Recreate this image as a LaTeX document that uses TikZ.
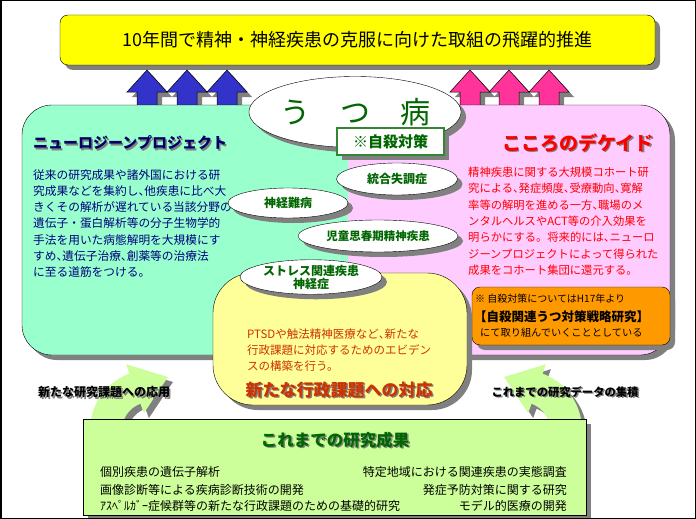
\documentclass[tikz,border=0pt]{standalone}
\usepackage{fontspec}
\setmainfont{Noto Sans CJK JP}
\usetikzlibrary{shapes.geometric,shadows,calc,positioning}

\definecolor{titleyellow}{HTML}{FFFF00}
\definecolor{neurogreen}{HTML}{99FFCC}
\definecolor{kokoropink}{HTML}{FFCCFF}
\definecolor{taiouyellow}{HTML}{FFFF99}
\definecolor{seikagreen}{HTML}{CCFF99}
\definecolor{arrowblue}{HTML}{3333CC}
\definecolor{arrowpink}{HTML}{FF3399}
\definecolor{byogreen}{HTML}{006600}
\definecolor{navytext}{HTML}{000080}
\definecolor{jisatsuorange}{HTML}{FF9900}
\definecolor{taioured}{HTML}{CC3300}

% half width comma
\newcommand{\tk}{{\addfontfeature{RawFeature=+halt}、}}
% text with a gray shadow
\newcommand{\castlabel}[4]{%
  \node[#2,text=gray] at ($(#3)+(1.5,1.5)$) {#4};
  \node[#2] (#1) at (#3) {#4};}

\tikzset{
  boxshadow/.style={drop shadow={shadow xshift=5pt,shadow yshift=-5pt,fill=gray,opacity=1}},
  sickness/.style={ellipse,draw=black,fill=white,boxshadow,text=byogreen,
    font=\bfseries\fontsize{12}{13}\selectfont,inner sep=0pt,align=center},
  upblock/.style={draw=black,line width=0.5pt,boxshadow},
  bodytext/.style={anchor=north west,inner sep=0pt,align=left},
}

\begin{document}
\begin{tikzpicture}[x=1pt,y=-1pt]
	\useasboundingbox (0,0) rectangle (696,519);
	% title
	\node[rectangle,rounded corners=8pt,draw=black,fill=titleyellow,boxshadow,
		minimum width=595,minimum height=50,font=\fontsize{18}{20}\selectfont]
		(title) at (357.5,40) {10年間で精神・神経疾患の克服に向けた取組の飛躍的推進};
	% arrows up
	\foreach \cx in {147,187,227}
		\path[fill=arrowblue,upblock] (\cx,70) -- (\cx+20,92) -- (\cx+10,92) -- (\cx+10,110)
			-- (\cx-10,110) -- (\cx-10,92) -- (\cx-20,92) -- cycle;
	\foreach \cx in {470,509,549}
		\path[fill=arrowpink,upblock] (\cx,70) -- (\cx+20,92) -- (\cx+10,92) -- (\cx+10,110)
			-- (\cx-10,110) -- (\cx-10,92) -- (\cx-20,92) -- cycle;
	% big box
	\fill[kokoropink,rounded corners=30pt,boxshadow] (22,105) rectangle (670,355);
	\begin{scope}
		\clip (0,0) rectangle (348,519);
		\fill[neurogreen,rounded corners=30pt] (22,105) rectangle (670,355);
	\end{scope}
	\draw[rounded corners=30pt] (22,105) rectangle (670,355);
	\castlabel{neurotitle}{anchor=west,inner sep=0pt,text=navytext!80!black,font=\bfseries\fontsize{15}{16}\selectfont}{33,143}{ニューロジーンプロジェクト}
	\node[bodytext,text=navytext,font=\fontsize{11.7}{16.3}\selectfont] (neurobody) at (33,169)
		{従来の研究成果や諸外国における研\\究成果などを集約し\tk 他疾患に比べ大\\きくその解析が遅れている当該分野の\\遺伝子・蛋白解析等の分子生物学的\\手法を用いた病態解明を大規模にす\\すめ\tk 遺伝子治療\tk 創薬等の治療法\\に至る道筋をつける。};
	\castlabel{kokorotitle}{inner sep=0pt,text=red,font=\bfseries\fontsize{19}{20}\selectfont}{578,143}{こころのデケイド}
	\node[bodytext,text=red,font=\fontsize{11.3}{16.3}\selectfont] (kokorobody) at (468,167)
		{精神疾患に関する大規模コホート研\\究による\tk 発症頻度\tk 受療動向\tk 寛解\\率等の解明を進める一方\tk 職場のメ\\ンタルヘルスやACT等の介入効果を\\明らかにする。将来的には\tk ニューロ\\ジーンプロジェクトによって得られた\\成果をコホート集団に還元する。};
	% suicide research note
	\node[rectangle,rounded corners=8pt,draw=black,fill=jisatsuorange,boxshadow,
		minimum width=198,minimum height=58] (jisatsubox) at (571,316) {};
	\node[anchor=west,inner sep=0pt,font=\fontsize{10}{11}\selectfont] (note1) at (475,299) {※ 自殺対策についてはH17年より};
	\node[anchor=west,inner sep=0pt,font=\bfseries\fontsize{12.5}{13}\selectfont] (note2) at (474,317) {【自殺関連うつ対策戦略研究】};
	\node[anchor=west,inner sep=0pt,font=\fontsize{10.2}{11}\selectfont] (note3) at (480,333) {にて取り組んでいくこととしている};
	% administrative issues
	\node[rectangle,rounded corners=40pt,draw=black,fill=taiouyellow,boxshadow,
		minimum width=254,minimum height=132] (taiou) at (340,339) {};
	\node[bodytext,text=taioured,font=\fontsize{11.5}{16}\selectfont] (taioubody) at (247,329)
		{PTSDや触法精神医療など\tk 新たな\\行政課題に対応するためのエビデン\\スの構築を行う。};
	\castlabel{taioutitle}{inner sep=0pt,text=taioured,font=\bfseries\fontsize{17}{18}\selectfont}{339,390}{新たな行政課題への対応};
	% depression
	\node[ellipse,draw=black,fill=white,boxshadow,minimum width=195,minimum height=71,
		text=byogreen,font=\fontsize{30}{32}\selectfont,inner sep=0pt] (utsu) at (355,112) {う　つ　病};
	\node[rectangle,draw=byogreen!80,line width=1.2pt,fill=white,boxshadow,minimum width=107,
		minimum height=27,text=byogreen,font=\bfseries\fontsize{15}{16}\selectfont] (jisatsu) at (390.5,141.5) {※自殺対策};
	\node[sickness,minimum width=121,minimum height=32] (tougou) at (397,179) {統合失調症};
	\node[sickness,minimum width=120,minimum height=30] (nanbyo) at (288,203) {神経難病};
	\node[sickness,minimum width=160,minimum height=32,font=\bfseries\fontsize{11.5}{13}\selectfont] (jido) at (378,236) {児童思春期精神疾患};
	\node[sickness,minimum width=142,minimum height=30] (stress) at (311,277) {ストレス関連疾患\\神経症};
	% curved arrows
	\coordinate (lc) at (150,430);
	\coordinate (rc) at (522,430);
	\path[fill=seikagreen,boxshadow] ($(lc)+(-185:60)$) arc[start angle=-185,end angle=-110,radius=60]
		-- ($(lc)+(-110:70)$) -- (168,377) -- ($(lc)+(-110:18)$) -- ($(lc)+(-110:28)$)
		arc[start angle=-110,end angle=-185,radius=28] -- cycle;
	\path[fill=seikagreen,boxshadow] ($(rc)+(5:60)$) arc[start angle=5,end angle=-70,radius=60]
		-- ($(rc)+(-70:70)$) -- (504,377) -- ($(rc)+(-70:18)$) -- ($(rc)+(-70:28)$)
		arc[start angle=-70,end angle=5,radius=28] -- cycle;
	% results so far
	\node[rectangle,draw=black,fill=seikagreen,boxshadow,minimum width=503,minimum height=96] (seika) at (334.5,467) {};
	\castlabel{seikatitle}{inner sep=0pt,text=byogreen,font=\bfseries\fontsize{16.5}{17}\selectfont}{335,440}{これまでの研究成果}
	\begin{scope}[every node/.style={inner sep=0pt,font=\fontsize{12}{13}\selectfont}]
		\node[anchor=west] (item1) at (100,472) {個別疾患の遺伝子解析};
		\node[anchor=west] (item2) at (100,490) {画像診断等による疾病診断技術の開発};
		\node[anchor=west] (item3) at (100,506) {ｱｽﾍﾟﾙｶﾞｰ症候群等の新たな行政課題のための基礎的研究};
		\node[anchor=east] (item4) at (567,472) {特定地域における関連疾患の実態調査};
		\node[anchor=east] (item5) at (567,490) {発症予防対策に関する研究};
		\node[anchor=east] (item6) at (567,506) {モデル的医療の開発};
	\end{scope}
	\castlabel{ouyou}{inner sep=0pt,font=\bfseries\fontsize{12}{13}\selectfont}{104,392}{新たな研究課題への応用}
	\castlabel{shuseki}{inner sep=0pt,font=\bfseries\fontsize{11.3}{13}\selectfont}{565,392}{これまでの研究データの集積}
	% frame
	\draw[line width=1.5pt] (0.75,0.75) rectangle (695.25,518.25);
\end{tikzpicture}
\end{document}
